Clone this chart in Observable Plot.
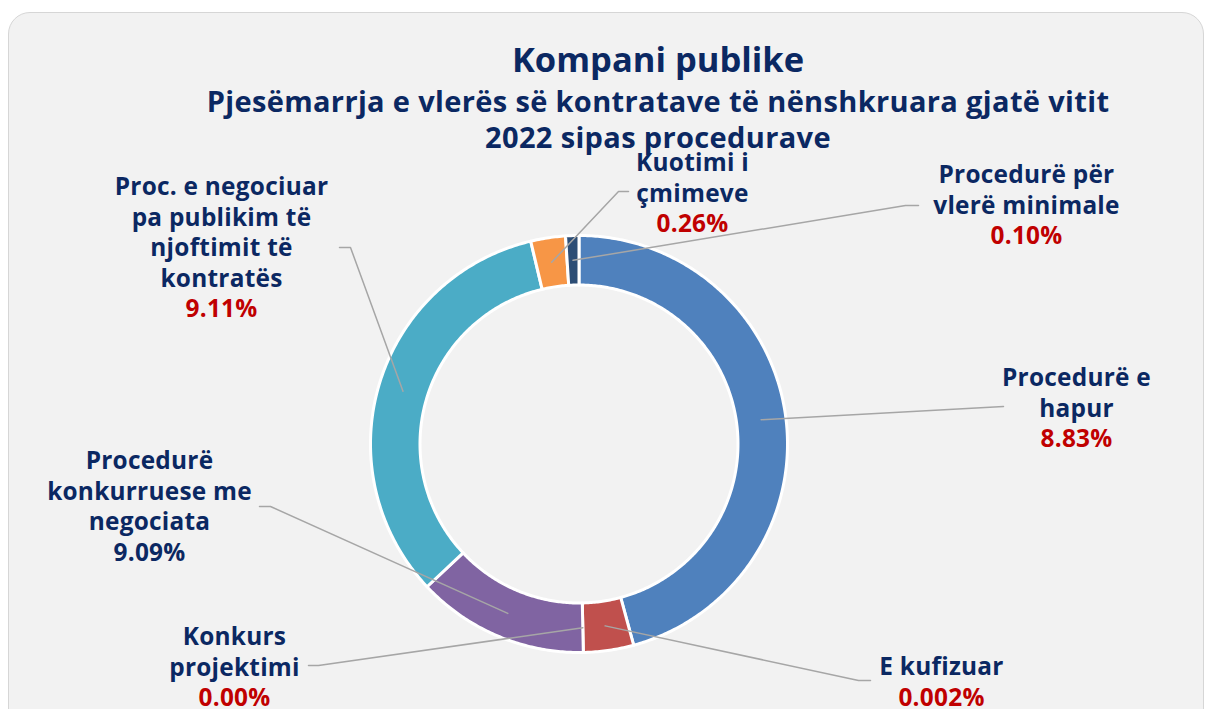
<!DOCTYPE html>
<html>
<head>
<meta charset="utf-8">
<script src="https://cdn.jsdelivr.net/npm/d3@7"></script>
<script src="https://cdn.jsdelivr.net/npm/@observablehq/plot@0.6"></script>
<style>
html, body { margin: 0; padding: 0; background: #ffffff; width: 1210px; height: 709px; overflow: hidden; }
#card { position: absolute; left: 8px; top: 12px; width: 1196px; height: 730px; background: #f2f2f2;
  border: 1.5px solid #d6d6d6; border-radius: 22px; box-sizing: border-box; }
.tl { position: absolute; left: 0; width: 1316px; text-align: center; font-family: "Open Sans", Lato, sans-serif;
  font-weight: bold; color: #0b2862; white-space: nowrap; }
#t1 { top: 39px; height: 40px; line-height: 40px; font-size: 34.5px; }
#t2 { top: 83px; height: 36px; line-height: 36px; font-size: 29px; letter-spacing: 0.35px; }
#t3 { top: 119px; height: 36px; line-height: 36px; font-size: 29px; letter-spacing: 0.35px; }
#chart { position: absolute; left: 0; top: 0; }
</style>
</head>
<body>
<div id="card"></div>
<div id="chart"></div>
<div class="tl" id="t1">Kompani publike</div>
<div class="tl" id="t2">Pjesëmarrja e vlerës së kontratave të nënshkruara gjatë vitit</div>
<div class="tl" id="t3">2022 sipas procedurave</div>
<script>
// ---- data ----
const categories = [
  "Procedurë e hapur",
  "E kufizuar",
  "Konkurs projektimi",
  "Procedurë konkurruese me negociata",
  "Proc. e negociuar pa publikim të njoftimit të kontratës",
  "Kuotimi i çmimeve",
  "Procedurë për vlerë minimale"
];
// share of the ring
const shares = [45.78, 3.89, 0, 13.33, 33.28, 2.69, 1.03];
// percentage text printed in each label
const pctLabels = ["8.83%", "0.002%", "0.00%", "9.09%", "9.11%", "0.26%", "0.10%"];
// label lines as shown
const labelNames = [
  ["Procedurë e", "hapur"],
  ["E kufizuar"],
  ["Konkurs", "projektimi"],
  ["Procedurë", "konkurruese me", "negociata"],
  ["Proc. e negociuar", "pa publikim të", "njoftimit të", "kontratës"],
  ["Kuotimi i", "çmimeve"],
  ["Procedurë për", "vlerë minimale"]
];

// ---- styles ----
const sliceColors = ["#4f81bd", "#c0504d", "#9bbb59", "#8064a2", "#4bacc6", "#f79646", "#2c4d75"];
const pctColors = ["#c00000", "#c00000", "#c00000", "#0b2862", "#c00000", "#c00000", "#c00000"];
const nameColor = "#0b2862";

// ---- layout (pixels) ----
const W = 1210, H = 709;
const center = {x: 578.5, y: 443.5};
const R = 208.5;            // outer radius px
const innerRatio = 159 / 208.5;
const lineGap = 30.5;
const labelAnchors = [[1076, 378], [941, 667], [234, 637], [149, 461], [221, 187], [692, 163], [1026, 175]];
const leaderElbows = [[1003, 406], [858, 680], [318, 665], [270, 506], [350, 247], [618, 191], [905, 205]];
const leaderEnds = [[1003, 406], [870, 680], [308, 665], [259, 506], [339, 247], [628, 191], [918, 205]];

const X = px => (px - center.x) / R;
const Y = py => (center.y - py) / R;

// ---- build slices ----
const total = d3.sum(shares);
const cum = d3.cumsum(shares);
const slices = categories.map((c, i) => ({
  cat: c,
  a0: (cum[i] - shares[i]) / total * 2 * Math.PI,
  a1: cum[i] / total * 2 * Math.PI,
  color: sliceColors[i]
}));

const ringPts = [];
slices.filter(s => s.a1 > s.a0).forEach(s => {
  const n = Math.max(4, Math.ceil((s.a1 - s.a0) / 0.01));
  const pts = [];
  for (let k = 0; k <= n; k++) { const a = s.a0 + (s.a1 - s.a0) * k / n; pts.push([Math.sin(a), Math.cos(a)]); }
  for (let k = n; k >= 0; k--) { const a = s.a0 + (s.a1 - s.a0) * k / n; pts.push([innerRatio * Math.sin(a), innerRatio * Math.cos(a)]); }
  pts.push(pts[0]);
  pts.forEach(p => ringPts.push({cat: s.cat, x: p[0], y: p[1], color: s.color}));
});

// ---- leaders ----
const midR = (1 + innerRatio) / 2;
const leaderPts = [];
slices.forEach((s, i) => {
  const m = (s.a0 + s.a1) / 2;
  leaderPts.push({id: i, x: midR * Math.sin(m), y: midR * Math.cos(m)});
  leaderPts.push({id: i, x: X(leaderElbows[i][0]), y: Y(leaderElbows[i][1])});
  leaderPts.push({id: i, x: X(leaderEnds[i][0]), y: Y(leaderEnds[i][1])});
});

// ---- label lines ----
const textRows = [];
labelNames.forEach((lines, i) => {
  const [ax, ay] = labelAnchors[i];
  lines.forEach((t, k) => textRows.push({x: X(ax), y: Y(ay + k * lineGap), text: t, color: nameColor}));
  textRows.push({x: X(ax), y: Y(ay + lines.length * lineGap), text: pctLabels[i], color: pctColors[i]});
});

const chart = Plot.plot({
  width: W, height: H,
  margin: 0,
  style: {background: "transparent", overflow: "visible", letterSpacing: "0.25px"},
  x: {domain: [X(0), X(W)], axis: null},
  y: {domain: [Y(H), Y(0)], axis: null},
  color: {type: "identity"},
  marks: [
    Plot.line(ringPts, {x: "x", y: "y", z: "cat", fill: "color", stroke: "#ffffff", strokeWidth: 3, strokeLinejoin: "round"}),
    Plot.line(leaderPts, {x: "x", y: "y", z: "id", stroke: "#a6a6a6", strokeWidth: 1.5}),
    Plot.text(textRows, {x: "x", y: "y", text: "text", fill: "color", fontSize: 24.4, fontWeight: "bold", fontFamily: "'Open Sans', Lato, sans-serif"})
  ]
});
document.getElementById("chart").appendChild(chart);
</script>
</body>
</html>
